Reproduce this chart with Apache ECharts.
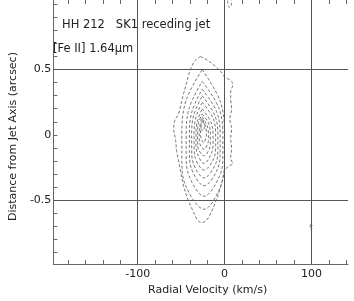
<!DOCTYPE html>
<html><head><meta charset="utf-8">
<script src="https://cdn.jsdelivr.net/npm/echarts@6/dist/echarts.min.js"></script>
<style>html,body{margin:0;padding:0;background:#fff}#c{width:354px;height:301px}</style>
</head><body><div id="c"></div>
<script>
const titleLine1 = 'HH 212   SK1 receding jet';
const titleLine2 = '[Fe II] 1.64µm';
const xName = 'Radial Velocity (km/s)';
const yName = 'Distance from Jet Axis (arcsec)';
const xLabels = [-100, 0, 100];
const yLabels = [-0.5, 0, 0.5];
const xMinorTicks = [-180, -160, -140, -120, -80, -60, -40, -20, 20, 40, 60, 80, 120, 140];
const yMinorTicks = [-0.9, -0.8, -0.7, -0.6, -0.4, -0.3, -0.2, -0.1, 0, 0.1, 0.2, 0.3, 0.4, 0.6, 0.7, 0.8, 0.9, 1.0];
const xGrid = [-100, 0, 100];
const yGrid = [-0.5, 0.5];

const contour1 = [[-28,0.60],[-21.2,0.578],[-13.3,0.54],[-6.6,0.50],[-2,0.465],[0.2,0.44],[3.6,0.43],[8.1,0.41],[9.3,0.38],[7,0.33],[7,0.275],[8.1,0.20],[5.9,0.12],[8.1,0.05],[7,-0.03],[8.1,-0.10],[7,-0.18],[9.3,-0.22],[4.7,-0.24],[0.2,-0.27],[-2,-0.33],[-5.4,-0.42],[-9.9,-0.505],[-15.6,-0.596],[-21.2,-0.657],[-26.9,-0.672],[-31.4,-0.65],[-35.9,-0.589],[-41.6,-0.505],[-47.2,-0.392],[-50.6,-0.278],[-52.9,-0.2],[-55.1,-0.127],[-56.3,-0.043],[-58.5,0.048],[-57.4,0.108],[-52.9,0.161],[-50.6,0.222],[-47.2,0.313],[-43.8,0.396],[-39.3,0.502],[-33.7,0.57],[-28,0.60]];
const contour2 = [[-25.8,0.50],[-5.2,0.26],[-0.1,0.01],[-0.1,-0.18],[-3.8,-0.38],[-23.5,-0.57],[-45.4,-0.38],[-49.2,-0.18],[-49.2,0.01],[-44.5,0.26],[-25.8,0.50]];
const contour3 = [[-25.8,0.41],[-6.8,0.21],[-2.0,0.01],[-2.0,-0.15],[-5.4,-0.31],[-23.5,-0.47],[-41.2,-0.31],[-44.2,-0.15],[-44.2,0.01],[-40.5,0.21],[-25.8,0.41]];
const contour4 = [[-25.8,0.35],[-9.3,0.18],[-5.1,0.01],[-5.1,-0.12],[-8.0,-0.26],[-23.5,-0.39],[-38.1,-0.26],[-40.5,-0.12],[-40.5,0.01],[-37.5,0.18],[-25.8,0.35]];
const contour5 = [[-25.8,0.30],[-11.3,0.15],[-7.7,0.01],[-7.7,-0.10],[-10.2,-0.22],[-23.5,-0.33],[-35.9,-0.22],[-37.9,-0.10],[-37.9,0.01],[-35.5,0.15],[-25.8,0.30]];
const contour6 = [[-25.8,0.25],[-13.3,0.13],[-10.3,0.01],[-10.3,-0.08],[-12.4,-0.18],[-23.5,-0.27],[-33.6,-0.18],[-35.1,-0.08],[-35.1,0.01],[-33.2,0.13],[-25.8,0.25]];
const contour7 = [[-25.8,0.20],[-15.8,0.10],[-13.3,0.01],[-13.3,-0.07],[-15.0,-0.14],[-23.5,-0.22],[-31.6,-0.14],[-32.9,-0.07],[-32.9,0.01],[-31.4,0.10],[-25.8,0.20]];
const contour8 = [[-25.8,0.16],[-18.3,0.09],[-16.4,0.01],[-16.4,-0.05],[-17.6,-0.11],[-23.5,-0.16],[-30.1,-0.11],[-31.1,-0.05],[-31.1,0.01],[-30.1,0.09],[-25.8,0.16]];
const contour9 = [[-25.8,0.14],[-20.1,0.07],[-18.6,0.01],[-18.6,-0.03],[-19.5,-0.07],[-23.5,-0.11],[-28.5,-0.07],[-29.2,-0.03],[-29.2,0.01],[-28.5,0.07],[-25.8,0.14]];
const contour10 = [[-25.2,0.12],[-21.8,0.06],[-20.9,0.01],[-21.8,-0.03],[-24.1,-0.06],[-26.9,-0.03],[-27.7,0.01],[-27.1,0.06],[-25.2,0.12]];
const contour11 = [[-25.2,0.10],[-22.9,0.07],[-25.2,0.03],[-27.5,0.07],[-25.2,0.10]];
const blipTop = [[3.6,1.03],[4.2,0.99],[6,0.975],[7.5,0.99],[8.1,1.03]];
const blipRight = [[98.5,-0.69],[100.5,-0.69],[100.5,-0.72],[99.5,-0.73],[98.5,-0.71],[98.5,-0.69]];

const contours = [contour1, contour2, contour3, contour4, contour5, contour6, contour7, contour8, contour9, contour10, contour11, blipTop, blipRight];

const FONT = 'DejaVu Sans';
const TXT = '#222';
const AX = '#666';

const chart = echarts.init(document.getElementById('c'), null, {renderer: 'canvas'});

const series = contours.map(c => ({
  type: 'line', data: c, showSymbol: false, smooth: 0.35, silent: true,
  lineStyle: {color: '#777', width: 1, type: [3, 2]}, animation: false
}));
series.push({
  type: 'line', data: [], silent: true, animation: false,
  markLine: {
    silent: true, symbol: 'none', animation: false,
    label: {show: false},
    lineStyle: {color: '#555', width: 1, type: 'solid'},
    data: xGrid.map(v => ({xAxis: v})).concat(yGrid.map(v => ({yAxis: v})))
  }
});

chart.setOption({
  animation: false,
  backgroundColor: '#fff',
  textStyle: {fontFamily: FONT},
  title: [
    {text: titleLine1, left: 62, top: 19, padding: 0, textStyle: {fontSize: 11.5, fontWeight: 'normal', color: TXT, fontFamily: FONT}},
    {text: titleLine2, left: 53, top: 43, padding: 0, textStyle: {fontSize: 11.5, fontWeight: 'normal', color: TXT, fontFamily: FONT}}
  ],
  grid: {left: 47, right: 6, top: 0, bottom: 34, containLabel: false},
  xAxis: [
    {
      type: 'value', position: 'bottom', min: -197, max: 142,
      name: xName, nameLocation: 'middle', nameGap: 16,
      nameTextStyle: {fontSize: 11, color: TXT, fontFamily: FONT, padding: [0, 0, 0, 14]},
      axisLine: {show: true, onZero: false, lineStyle: {color: AX, width: 1}},
      axisTick: {show: true, inside: true, length: 4, customValues: xMinorTicks, lineStyle: {color: AX}},
      axisLabel: {show: true, customValues: xLabels, fontSize: 11, color: TXT, margin: 5, fontFamily: FONT},
      splitLine: {show: false}
    },
    {
      type: 'value', position: 'top', min: -197, max: 142,
      axisLine: {show: false, onZero: false},
      axisTick: {show: true, inside: true, length: 4, customValues: xMinorTicks, lineStyle: {color: AX}},
      axisLabel: {show: false},
      splitLine: {show: false}
    }
  ],
  yAxis: [
    {
      type: 'value', position: 'left', min: -0.99, max: 1.033,
      name: yName, nameLocation: 'middle', nameGap: 29,
      nameTextStyle: {fontSize: 11, color: TXT, fontFamily: FONT, padding: [0, 9, 0, 0]},
      axisLine: {show: true, onZero: false, lineStyle: {color: AX, width: 1}},
      axisTick: {show: true, inside: true, length: 4, customValues: yMinorTicks, lineStyle: {color: AX}},
      axisLabel: {show: true, customValues: yLabels, fontSize: 11, color: TXT, margin: 2, fontFamily: FONT},
      splitLine: {show: false}
    }
  ],
  series: series
});
</script>
</body></html>
